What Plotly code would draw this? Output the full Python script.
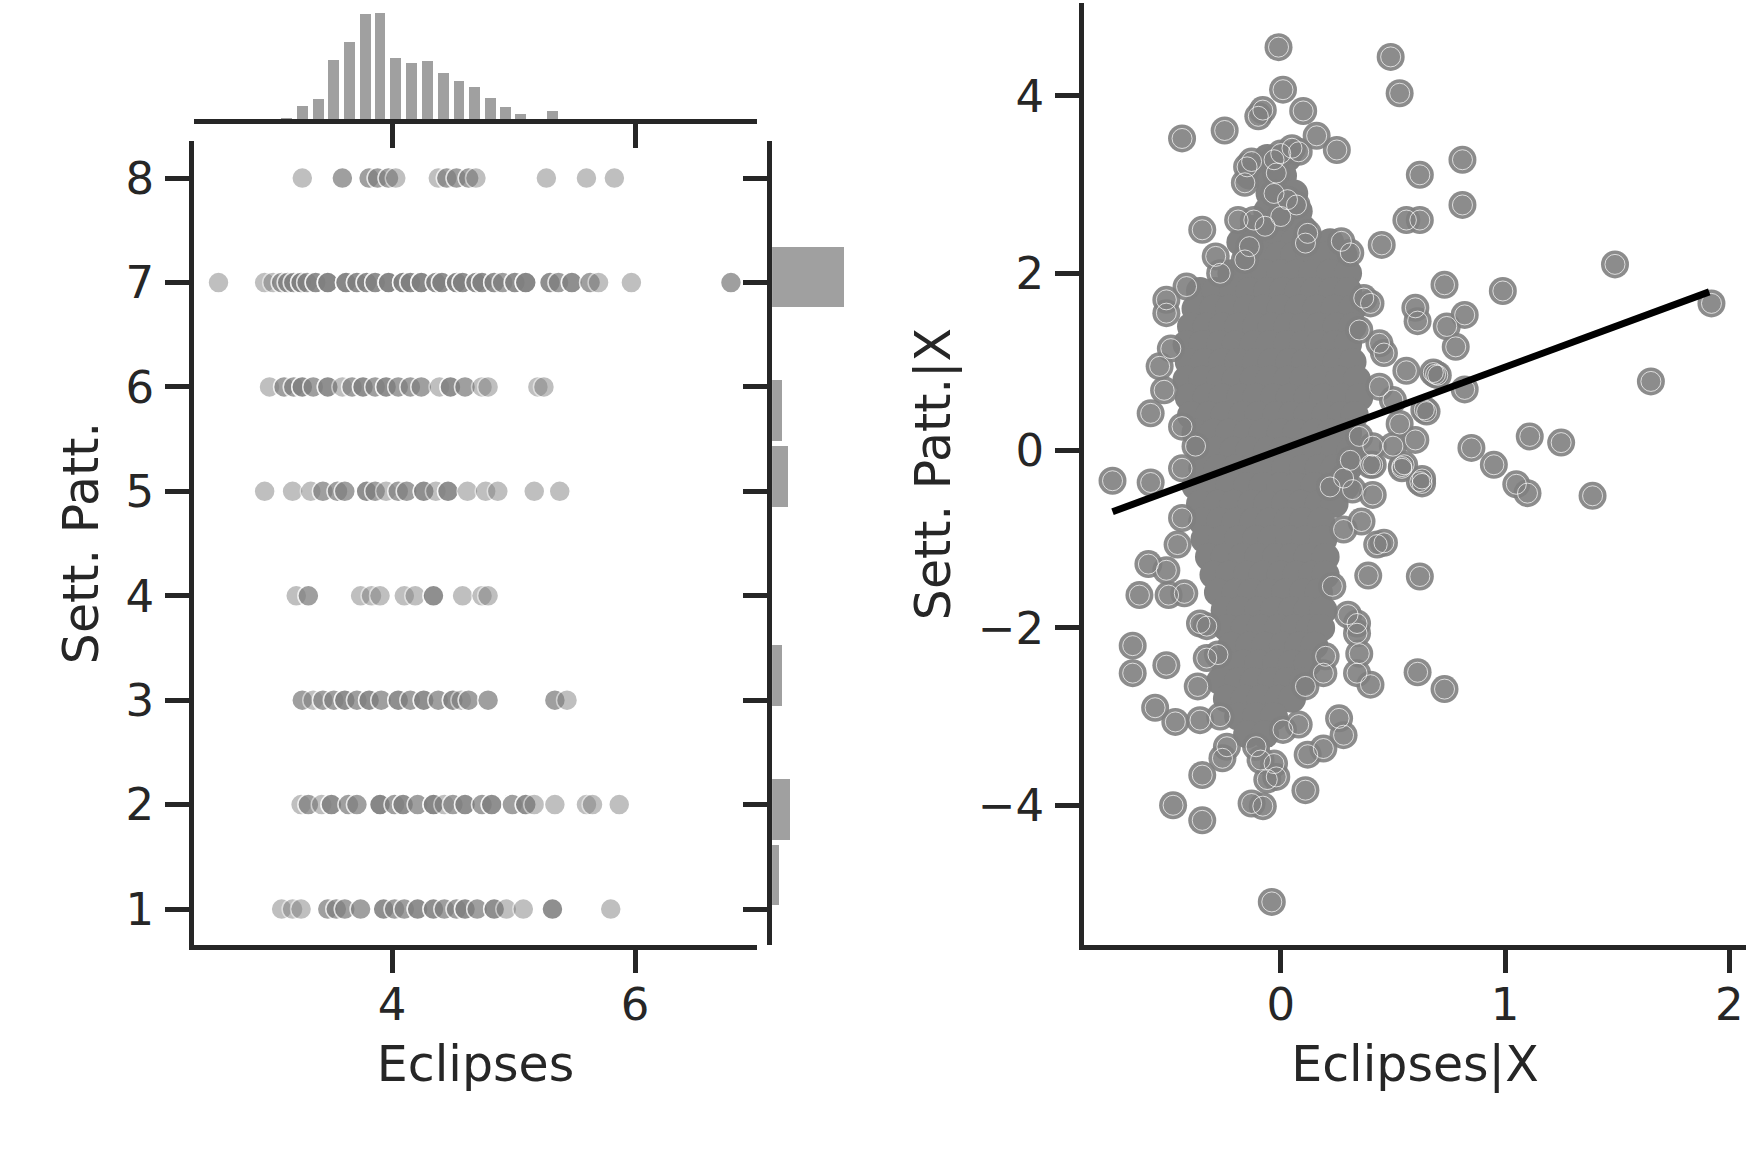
import plotly.graph_objects as go

INK = "#262626"
FONT = "DejaVu Sans"

# ---------------- left: Sett. Patt. against Eclipses ----------------
# for each Sett. Patt. level: Eclipses values seen in the row and how many points sit there
ecl_8_pos = [3.26, 3.59, 3.81, 3.88, 3.97, 4.03, 4.38, 4.45, 4.53, 4.63, 4.69, 5.27, 5.60, 5.83]
ecl_8_n = [1, 2, 2, 2, 2, 1, 1, 2, 2, 2, 1, 1, 1, 1]

ecl_7_pos = [2.57, 2.95, 3.02, 3.09, 3.14, 3.19, 3.25, 3.30, 3.37, 3.47, 3.62, 3.71,
             3.79, 3.86, 3.97, 4.09, 4.15, 4.24, 4.36, 4.41, 4.53, 4.58, 4.69, 4.74,
             4.84, 4.91, 5.01, 5.10, 5.30, 5.37, 5.48, 5.63, 5.70, 5.97, 6.79]
ecl_7_n = [1, 1, 1, 2, 2, 2, 3, 2, 3, 4, 4, 3,
           3, 3, 4, 4, 3, 4, 3, 3, 4, 3, 3, 3,
           3, 2, 3, 4, 3, 2, 3, 2, 1, 1, 2]

ecl_6_pos = [2.99, 3.11, 3.19, 3.26, 3.35, 3.47, 3.59, 3.67, 3.76, 3.86, 3.95, 4.05,
             4.15, 4.24, 4.39, 4.48, 4.60, 4.74, 4.79, 5.20, 5.25]
ecl_6_n = [1, 2, 2, 3, 2, 3, 1, 2, 3, 2, 3, 2,
           2, 2, 1, 3, 2, 1, 1, 1, 1]

ecl_5_pos = [2.95, 3.18, 3.33, 3.43, 3.55, 3.61, 3.79, 3.86, 3.95, 4.05, 4.12, 4.26,
             4.36, 4.46, 4.62, 4.77, 4.87, 5.17, 5.38]
ecl_5_n = [1, 1, 1, 2, 2, 2, 3, 2, 1, 2, 2, 3,
           1, 3, 1, 1, 1, 1, 1]

ecl_4_pos = [3.21, 3.31, 3.74, 3.83, 3.90, 4.10, 4.19, 4.34, 4.58, 4.74, 4.79]
ecl_4_n = [1, 2, 1, 1, 1, 1, 1, 3, 1, 1, 1]

ecl_3_pos = [3.26, 3.35, 3.43, 3.52, 3.61, 3.71, 3.81, 3.91, 4.05, 4.15, 4.26, 4.38,
             4.50, 4.57, 4.63, 4.79, 5.34, 5.44]
ecl_3_n = [2, 1, 2, 2, 3, 2, 3, 2, 3, 2, 3, 2,
           3, 1, 2, 2, 2, 1]

ecl_2_pos = [3.25, 3.31, 3.42, 3.50, 3.64, 3.71, 3.90, 4.02, 4.09, 4.21, 4.34, 4.43,
             4.50, 4.60, 4.74, 4.82, 4.99, 5.10, 5.17, 5.34, 5.60, 5.65, 5.87]
ecl_2_n = [1, 2, 1, 3, 2, 2, 4, 2, 3, 2, 4, 1,
           2, 3, 2, 3, 2, 3, 1, 1, 1, 1, 1]

ecl_1_pos = [3.09, 3.18, 3.25, 3.47, 3.54, 3.61, 3.74, 3.93, 4.02, 4.10, 4.21, 4.34,
             4.43, 4.53, 4.60, 4.70, 4.84, 4.94, 5.08, 5.32, 5.80]
ecl_1_n = [1, 1, 1, 2, 2, 2, 2, 3, 2, 2, 3, 3,
           2, 2, 3, 2, 3, 1, 1, 3, 1]

# marginal histogram of Eclipses (top)
ecl_bin_centers = [3.13, 3.26, 3.39, 3.52, 3.65, 3.78, 3.90, 4.03, 4.16, 4.29,
                   4.42, 4.55, 4.68, 4.81, 4.93, 5.06, 5.32]
ecl_bin_counts = [1, 13, 20, 58, 76, 103, 104, 60, 55, 57, 45, 37, 31, 21, 12, 5, 8]

# marginal histogram of Sett. Patt. (right)
sett_bin_centers = [1.32, 1.95, 3.23, 5.14, 5.77, 7.05]
sett_bin_counts = [40, 106, 58, 94, 62, 430]

# ---------------- right: partial regression Sett. Patt.|X vs Eclipses|X ----------------
outlier_x = [-0.01, 0.49, 0.53, 0.01, -0.10, -0.08, 0.10, -0.44, -0.25, 0.16, 0.25, 0.00,
             0.05, 0.08, -0.03, -0.15, -0.13, -0.16, -0.02, -0.03, 0.03, 0.07, 0.62, 0.81,
             0.81, 0.56, 0.62, -0.19, -0.12, -0.07, 0.00, -0.35, 0.12, 0.11, 0.27, 0.31,
             0.45, -0.29, -0.27, -0.14, -0.16, -0.42, -0.51, -0.51, 0.73, 0.60, 0.61, 0.37,
             0.40, 0.35, 0.74, 0.78, 0.44, 0.46, 0.56, 0.69, -0.49, -0.54, -0.52, -0.58,
             -0.44, -0.38, -0.44, -0.75, -0.58, 0.44, 0.50, 0.65, 0.53, 0.60, 0.35, 0.41,
             0.50, 0.41, 0.54, 0.85, 0.63, 0.31, 1.49, 0.99, 0.82, 1.65, 1.92, 0.82,
             0.64, 0.95, 1.11, 1.25, 1.05, 1.10, 1.39, 0.70, 0.68,
             -0.44, -0.46, -0.59, -0.51, -0.63, -0.50, -0.43, -0.33, -0.36, -0.66, -0.66, -0.51,
             -0.33, -0.28, -0.37, -0.56, -0.47, -0.36, -0.27, -0.24, -0.26, -0.35, -0.48, -0.35,
             -0.13, -0.08, -0.04, -0.06, -0.02, 0.11, -0.09, -0.03, -0.11, 0.12, 0.19, 0.26,
             0.28, 0.01, 0.08, 0.11, 0.19, 0.20, 0.30, 0.34, 0.34, 0.35, 0.34, 0.40,
             0.61, 0.73, 0.62, 0.39, 0.43, 0.46, 0.36, 0.41, 0.28, 0.32, 0.23, 0.63,
             0.54, 0.40, 0.22, 0.28, 0.55, 0.62]
outlier_y = [4.55, 4.44, 4.03, 4.07, 3.77, 3.84, 3.83, 3.52, 3.61, 3.55, 3.39, 3.35,
             3.41, 3.37, 3.28, 3.20, 3.26, 3.02, 3.13, 2.90, 2.83, 2.77, 3.11, 3.28,
             2.77, 2.60, 2.60, 2.60, 2.60, 2.53, 2.64, 2.49, 2.45, 2.34, 2.36, 2.23,
             2.32, 2.19, 2.00, 2.30, 2.15, 1.85, 1.70, 1.55, 1.87, 1.61, 1.46, 1.72,
             1.66, 1.36, 1.40, 1.17, 1.21, 1.10, 0.90, 0.86, 1.15, 0.95, 0.68, 0.42,
             0.27, 0.05, -0.20, -0.34, -0.36, 0.72, 0.57, 0.44, 0.30, 0.12, 0.16, 0.05,
             0.05, -0.16, -0.18, 0.03, -0.32, -0.11, 2.10, 1.80, 1.53, 0.78, 1.66, 0.69,
             0.46, -0.16, 0.16, 0.09, -0.38, -0.48, -0.51, 0.85, 0.88,
             -0.76, -1.06, -1.28, -1.35, -1.63, -1.63, -1.61, -1.98, -1.95, -2.20, -2.51, -2.42,
             -2.34, -2.30, -2.66, -2.90, -3.06, -3.04, -3.00, -3.34, -3.47, -3.66, -4.00, -4.17,
             -3.98, -4.01, -5.09, -3.71, -3.68, -3.83, -3.49, -3.53, -3.34, -3.43, -3.36, -3.02,
             -3.21, -3.15, -3.09, -2.66, -2.51, -2.32, -1.85, -1.95, -2.06, -2.29, -2.51, -2.64,
             -2.50, -2.69, -1.42, -1.41, -1.06, -1.04, -0.80, -0.50, -0.89, -0.44, -1.53, -0.37,
             -0.20, -0.16, -0.41, -0.31, -0.16, -0.35]

# dense centre of the cloud: one list of Eclipses|X values per Sett. Patt.|X level
core_levels = [3.3, 3.1, 2.9, 2.7, 2.5, 2.35,
               2.2, 2.0, 1.8, 1.6, 1.4, 1.2, 1.0, 0.8, 0.6, 0.4, 0.2, 0.0, -0.2, -0.4,
               -0.6, -0.8, -1.0, -1.2, -1.4, -1.6, -1.8, -2.0, -2.2, -2.4, -2.6, -2.8,
               -3.0, -3.2]
core_rows = [
    [-0.06, 0.03],
    [-0.14, -0.07, 0.01],
    [-0.05, 0.02, 0.06],
    [-0.06, 0.01, 0.08],
    [-0.12, -0.04, 0.04, 0.10],
    [-0.18, -0.10, -0.02, 0.06, 0.14, 0.22],
    [-0.15, -0.08, -0.01, 0.06, 0.13, 0.20, 0.28],
    [-0.22, -0.14, -0.07, 0.00, 0.07, 0.14, 0.22, 0.30],
    [-0.36, -0.29, -0.21, -0.14, -0.06, 0.01, 0.08, 0.15, 0.23, 0.30],
    [-0.38, -0.30, -0.23, -0.15, -0.08, 0.00, 0.08, 0.16, 0.24, 0.32],
    [-0.40, -0.33, -0.26, -0.19, -0.11, -0.04, 0.03, 0.10, 0.17, 0.25, 0.32],
    [-0.42, -0.35, -0.27, -0.20, -0.12, -0.05, 0.03, 0.10, 0.17, 0.24, 0.30],
    [-0.41, -0.34, -0.26, -0.19, -0.11, -0.04, 0.04, 0.11, 0.18, 0.25, 0.32],
    [-0.42, -0.35, -0.27, -0.20, -0.12, -0.05, 0.03, 0.10, 0.18, 0.26, 0.34],
    [-0.41, -0.33, -0.26, -0.18, -0.11, -0.03, 0.04, 0.12, 0.19, 0.27, 0.35],
    [-0.40, -0.32, -0.25, -0.17, -0.10, -0.02, 0.05, 0.12, 0.20, 0.27, 0.33],
    [-0.38, -0.30, -0.23, -0.15, -0.08, 0.00, 0.07, 0.15, 0.22, 0.30],
    [-0.36, -0.29, -0.21, -0.14, -0.06, 0.01, 0.09, 0.16, 0.24, 0.31],
    [-0.35, -0.28, -0.20, -0.13, -0.05, 0.02, 0.10, 0.17, 0.24, 0.30],
    [-0.38, -0.30, -0.23, -0.15, -0.08, 0.00, 0.07, 0.15, 0.22, 0.29],
    [-0.36, -0.28, -0.21, -0.13, -0.06, 0.02, 0.09, 0.17, 0.24],
    [-0.35, -0.27, -0.20, -0.12, -0.05, 0.03, 0.10, 0.18],
    [-0.34, -0.26, -0.19, -0.11, -0.04, 0.04, 0.11, 0.19],
    [-0.32, -0.25, -0.17, -0.10, -0.02, 0.05, 0.12, 0.20],
    [-0.30, -0.23, -0.15, -0.08, 0.00, 0.07, 0.14, 0.20],
    [-0.28, -0.20, -0.13, -0.05, 0.02, 0.10, 0.17],
    [-0.25, -0.18, -0.10, -0.03, 0.05, 0.12, 0.19],
    [-0.24, -0.16, -0.09, -0.01, 0.06, 0.13, 0.18],
    [-0.22, -0.14, -0.07, 0.01, 0.08, 0.15],
    [-0.25, -0.17, -0.10, -0.02, 0.05, 0.12],
    [-0.27, -0.19, -0.12, -0.04, 0.03, 0.10],
    [-0.24, -0.16, -0.09, -0.01, 0.05],
    [-0.19, -0.11, -0.03],
    [-0.15, -0.07],
]

# fitted regression line end points
fit_x = [-0.75, 1.91]
fit_y = [-0.69, 1.79]

# ---------------- build traces ----------------
left_x, left_y = [], []
rows = [(1, ecl_1_pos, ecl_1_n), (2, ecl_2_pos, ecl_2_n), (3, ecl_3_pos, ecl_3_n),
        (4, ecl_4_pos, ecl_4_n), (5, ecl_5_pos, ecl_5_n), (6, ecl_6_pos, ecl_6_n),
        (7, ecl_7_pos, ecl_7_n), (8, ecl_8_pos, ecl_8_n)]
for level, pos, counts in rows:
    for v, n in zip(pos, counts):
        left_x += [v] * n
        left_y += [level] * n

core_x, core_y = [], []
for lev, row in zip(core_levels, core_rows):
    core_x += row
    core_y += [lev] * len(row)

fig = go.Figure()

fig.add_trace(go.Scatter(
    x=left_x, y=left_y, mode="markers", xaxis="x", yaxis="y",
    marker=dict(size=21, color="#808080", opacity=0.5,
                line=dict(color="white", width=1.5)),
    hoverinfo="skip", showlegend=False))

fig.add_trace(go.Bar(
    x=ecl_bin_centers, y=ecl_bin_counts, width=0.089, xaxis="x2", yaxis="y2",
    marker=dict(color="#a0a0a0", line=dict(width=0)), showlegend=False))

fig.add_trace(go.Bar(
    y=sett_bin_centers, x=sett_bin_counts, width=0.58, orientation="h",
    xaxis="x3", yaxis="y3",
    marker=dict(color="#a0a0a0", line=dict(width=0)), showlegend=False))

fig.add_trace(go.Scatter(
    x=core_x, y=core_y, mode="markers", xaxis="x4", yaxis="y4",
    marker=dict(size=28, color="#828282", opacity=1, line=dict(width=0)),
    hoverinfo="skip", showlegend=False))
fig.add_trace(go.Scatter(
    x=outlier_x, y=outlier_y, mode="markers", xaxis="x4", yaxis="y4",
    marker=dict(size=28, color="#808080", opacity=0.9, line=dict(width=0)),
    hoverinfo="skip", showlegend=False))
# faint inner ring on the scattered points
fig.add_trace(go.Scatter(
    x=outlier_x, y=outlier_y, mode="markers", xaxis="x4", yaxis="y4",
    marker=dict(symbol="circle-open", size=20, color="rgba(255,255,255,0.7)",
                line=dict(width=1)),
    hoverinfo="skip", showlegend=False))

fig.add_trace(go.Scatter(
    x=fit_x, y=fit_y, mode="lines", xaxis="x4", yaxis="y4",
    line=dict(color="black", width=7), hoverinfo="skip", showlegend=False))


def ax_style(**kw):
    base = dict(showline=True, linecolor=INK, linewidth=4.5, ticks="outside",
                ticklen=24, tickwidth=4.5, tickcolor=INK, showgrid=False,
                zeroline=False, automargin=False,
                tickfont=dict(family=FONT, size=45, color=INK))
    base.update(kw)
    return base


title_font = dict(family=FONT, size=49, color=INK)

fig.update_layout(
    width=1746, height=1151,
    margin=dict(l=0, r=0, t=0, b=0),
    paper_bgcolor="white", plot_bgcolor="white",
    font=dict(family=FONT, color=INK),
    bargap=0,
    xaxis=ax_style(domain=[0.1111, 0.4336], range=[2.368, 7.005], anchor="y",
                   tickvals=[4, 6], ticklabelstandoff=-7,
                   title=dict(text="Eclipses", font=title_font, standoff=18)),
    yaxis=ax_style(domain=[0.1792, 0.8771], range=[0.658, 8.351], anchor="x",
                   tickvals=[1, 2, 3, 4, 5, 6, 7, 8], ticklabelstandoff=2,
                   title=dict(text="Sett. Patt.", font=title_font, standoff=13)),
    xaxis2=ax_style(domain=[0.1111, 0.4336], range=[2.368, 7.005], anchor="y2",
                    tickvals=[4, 6], showticklabels=False),
    yaxis2=dict(domain=[0.8966, 1.0], range=[0, 117], anchor="x2", visible=False),
    xaxis3=dict(domain=[0.4422, 0.5098], range=[0, 708], anchor="y3", visible=False),
    yaxis3=ax_style(domain=[0.1792, 0.8771], range=[0.658, 8.351], anchor="x3",
                    tickvals=[1, 2, 3, 4, 5, 6, 7, 8], showticklabels=False),
    xaxis4=ax_style(domain=[0.6208, 1.0], range=[-0.8775, 2.074], anchor="y4",
                    tickvals=[0, 1, 2], ticklabelstandoff=-7,
                    title=dict(text="Eclipses|X", font=title_font, standoff=18)),
    yaxis4=ax_style(domain=[0.1792, 0.9971], range=[-5.573, 5.044], anchor="x4",
                    tickvals=[-4, -2, 0, 2, 4], ticklabelstandoff=2,
                    title=dict(text="Sett. Patt.|X", font=title_font, standoff=13)),
)

# the page body keeps its default 8px margin otherwise, which shifts the figure
fig.write_html("out.html", config={"displayModeBar": False},
               post_script="document.body.style.margin='0px';")
